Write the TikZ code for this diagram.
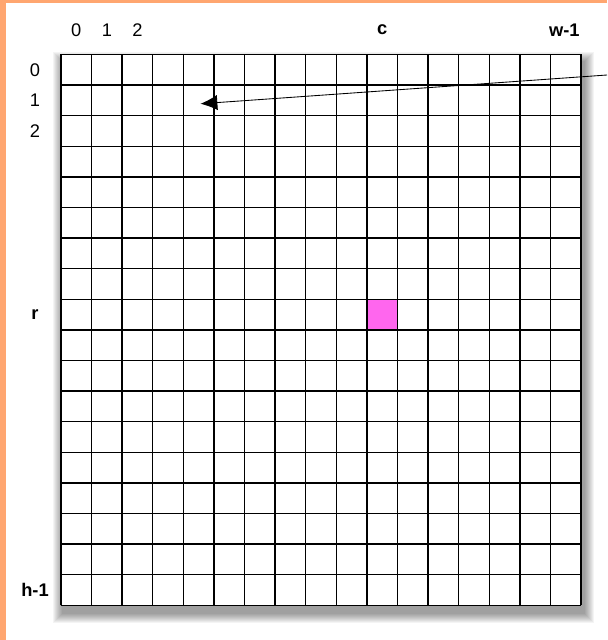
\documentclass[tikz,border=0pt]{standalone}
\usepackage{fontspec}
\setmainfont{Liberation Sans}
\usepackage{xcolor}
\usepackage{tikz}
\usetikzlibrary{arrows.meta}
\definecolor{frameorange}{RGB}{255,166,112}
\definecolor{cellpink}{RGB}{255,102,238}

\begin{document}
\begin{tikzpicture}[
    lbl/.style={font=\fontsize{17}{19}\selectfont},
    boldlbl/.style={font=\fontsize{17}{19}\selectfont\bfseries}]
    \useasboundingbox (-1.993,-1.134) rectangle (17.844,19.781);
    \fill[white] (-1.993,-1.134) rectangle (17.844,19.781);
    \fill[frameorange] (-1.993,-1.134) rectangle (-1.797,19.781);
    \fill[frameorange] (-1.993,19.667) rectangle (17.844,19.781);
    % soft shadow under the grid
    \foreach \k in {1,...,10}
        \fill[black, opacity=0.045] (0.08-0.033*\k,-0.25-0.033*\k) rectangle (17.08+0.033*\k,17.75+0.033*\k);
    \fill[white] (0,0) rectangle (17,18);
    \fill[cellpink] (10,9) rectangle (11,10);
    \draw[line width=1.3pt] (0,0) grid (17,18);

    \foreach \j in {0,1,2}
        \node[lbl] (col\j) at (\j+0.5,18.8) {\j};
    \node[boldlbl] (colc) at (10.5,18.8) {c};
    \node[boldlbl] (colw) at (16.45,18.8) {w-1};
    \foreach \i in {0,1,2}
        \node[lbl] (row\i) at (-0.85,17.5-\i) {\i};
    \node[boldlbl] (rowr) at (-0.85,9.5) {r};
    \node[boldlbl] (rowh) at (-0.85,0.5) {h-1};

    \coordinate (from) at (17.844,17.33);
    \coordinate (target) at (4.56,16.39);
    \draw[-{Latex[length=0.55cm,width=0.5cm]}, line width=0.8pt] (from) -- (target);
\end{tikzpicture}
\end{document}
